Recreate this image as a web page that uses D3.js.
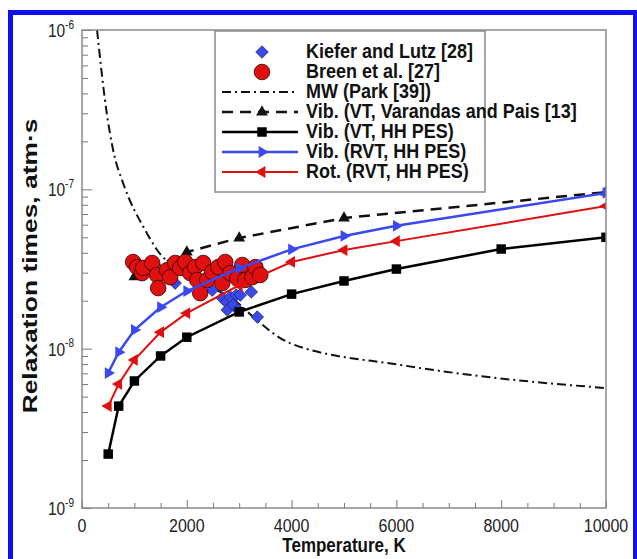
<!DOCTYPE html>
<html>
<head>
<meta charset="utf-8">
<script src="https://cdn.jsdelivr.net/npm/d3@7"></script>
<style>
  html, body { margin: 0; padding: 0; background: #fff; }
  svg { display: block; font-family: "Liberation Sans", Arial, sans-serif; }
</style>
</head>
<body>
<svg id="chart" width="637" height="559"></svg>
<script>
// Temperature (K) and relaxation time (atm·s) for each series
const vtHhT   = [500, 700, 1000, 1500, 2000, 3000, 4000, 5000, 6000, 8000, 10000];
const vtHhTau = [2.18e-9, 4.36e-9, 6.27e-9, 9.0e-9, 1.18e-8, 1.70e-8, 2.2e-8, 2.66e-8, 3.16e-8, 4.22e-8, 5.0e-8];

const rvtVibT   = [500, 700, 1000, 1500, 2000, 3000, 4000, 5000, 6000, 10000];
const rvtVibTau = [7.03e-9, 9.5e-9, 1.31e-8, 1.82e-8, 2.30e-8, 3.2e-8, 4.2e-8, 5.1e-8, 5.9e-8, 9.5e-8];

const rvtRotT   = [500, 700, 1000, 1500, 2000, 3000, 4000, 5000, 6000, 10000];
const rvtRotTau = [4.36e-9, 6.0e-9, 8.5e-9, 1.27e-8, 1.67e-8, 2.5e-8, 3.5e-8, 4.16e-8, 4.73e-8, 7.85e-8];

const varandasT   = [1000, 2000, 3000, 5000, 10000];
const varandasTau = [2.82e-8, 4.04e-8, 4.95e-8, 6.6e-8, 9.6e-8];

const parkT   = [287, 478, 593, 800, 1205, 1434, 2000, 3021, 3270, 3977, 6080, 7992, 10000];
const parkTau = [1.0e-6, 2.92e-7, 1.77e-7, 1.06e-7, 5.55e-8, 4.16e-8, 2.95e-8, 1.88e-8, 1.58e-8, 1.08e-8, 7.9e-9, 6.5e-9, 5.66e-9];

const kieferT   = [1778, 2256, 2486, 2677, 2753, 2830, 2944, 3021, 3231, 2772, 2887, 2983, 3346];
const kieferTau = [2.58e-8, 2.44e-8, 2.33e-8, 2.08e-8, 1.96e-8, 2.11e-8, 2.17e-8, 2.17e-8, 2.27e-8, 1.75e-8, 1.88e-8, 1.75e-8, 1.58e-8];

const breenT   = [975, 1052, 1147, 1166, 1338, 1434, 1453, 1625, 1683, 1778, 1874, 1969, 2065, 2161, 2199, 2256, 2314, 2390, 2486, 2600, 2677, 2734, 2830, 2964, 3059, 3117, 3250, 3308, 3403];
const breenTau = [3.50e-8, 3.25e-8, 2.98e-8, 3.21e-8, 3.45e-8, 2.90e-8, 2.40e-8, 3.11e-8, 2.81e-8, 3.45e-8, 3.21e-8, 3.50e-8, 2.98e-8, 3.25e-8, 2.70e-8, 2.23e-8, 3.45e-8, 2.70e-8, 3.03e-8, 3.25e-8, 2.58e-8, 3.50e-8, 2.98e-8, 2.77e-8, 3.35e-8, 2.70e-8, 2.81e-8, 3.25e-8, 2.90e-8];

const xTicks = [0, 2000, 4000, 6000, 8000, 10000];
const yTickExp = [-6, -7, -8, -9];

const legendLabels = [
  "Kiefer and Lutz [28]",
  "Breen et al. [27]",
  "MW (Park [39])",
  "Vib. (VT, Varandas and Pais [13]",
  "Vib. (VT, HH PES)",
  "Vib. (RVT, HH PES)",
  "Rot. (RVT, HH PES)"
];

const BLUE = "#3a48f0";
const RED = "#e01010";
const TEXT_STRETCH = 1.2;   // lettering is set taller than it is wide

const svg = d3.select("#chart");
const plot = { left: 82, right: 606, top: 30, bottom: 508 };

const x = d3.scaleLinear().domain([0, 10000]).range([plot.left, plot.right]);
const y = d3.scaleLog().domain([1e-9, 1e-6]).range([plot.bottom, plot.top]);

// page frame
svg.append("rect")
  .attr("x", 10.5).attr("y", 12.5).attr("width", 625).attr("height", 560)
  .attr("fill", "none").attr("stroke", "#1010ee").attr("stroke-width", 5);

svg.append("clipPath").attr("id", "clip")
  .append("rect").attr("x", plot.left).attr("y", plot.top)
  .attr("width", plot.right - plot.left).attr("height", plot.bottom - plot.top);

// axes: ticks point into the plot
const xAxis = d3.axisTop(x).tickValues(d3.range(0, 10001, 500)).tickFormat("")
  .tickSizeInner(0).tickSizeOuter(0);
const gx = svg.append("g").attr("transform", `translate(0,${plot.bottom})`).call(xAxis);
gx.select(".domain").remove();
gx.selectAll(".tick line")
  .attr("y2", d => (d % 2000 === 0 ? -8 : -5))
  .attr("stroke", "#777").attr("stroke-width", 1);

const yMinor = [];
for (let e = -9; e < -6; e++) for (let m = 1; m < 10; m++) yMinor.push(m * Math.pow(10, e));
yMinor.push(1e-6);
const yAxis = d3.axisRight(y).tickValues(yMinor).tickFormat("").tickSizeInner(0).tickSizeOuter(0);
const gy = svg.append("g").attr("transform", `translate(${plot.left},0)`).call(yAxis);
gy.select(".domain").remove();
gy.selectAll(".tick line")
  .attr("x2", d => {
    const r = Math.log10(d);
    return Math.abs(r - Math.round(r)) < 1e-9 ? 10 : 6;
  })
  .attr("stroke", "#777").attr("stroke-width", 1);

// tick labels
svg.append("g").selectAll("text").data(xTicks).join("text")
  .attr("transform", d => `translate(${x(d)},${plot.bottom + 24}) scale(1,${TEXT_STRETCH})`)
  .attr("text-anchor", "middle").attr("font-size", 16).attr("fill", "#222")
  .text(d => d);

const yl = svg.append("g").selectAll("text").data(yTickExp).join("text")
  .attr("transform", d => `translate(${plot.left - 8},${y(Math.pow(10, d)) + 7}) scale(1,${TEXT_STRETCH})`)
  .attr("text-anchor", "end").attr("font-size", 15.5).attr("fill", "#222");
yl.append("tspan").text("10");
yl.append("tspan").attr("dy", -7).attr("font-size", 10).text(d => d);

// axis titles
svg.append("text")
  .attr("transform", `translate(${(plot.left + plot.right) / 2},552) scale(1,1.2)`)
  .attr("text-anchor", "middle").attr("font-size", 17).attr("font-weight", "bold")
  .attr("fill", "#111").text("Temperature, K");
svg.append("text")
  .attr("transform", `translate(37,266) rotate(-90) scale(1.32,1)`)
  .attr("text-anchor", "middle").attr("font-size", 20).attr("font-weight", "bold")
  .attr("fill", "#111").text("Relaxation times, atm·s");

const zip = (a, b) => a.map((v, i) => [v, b[i]]);
const line = d3.line().x(d => x(d[0])).y(d => y(d[1]));
const smooth = d3.line().x(d => x(d[0])).y(d => y(d[1])).curve(d3.curveMonotoneX);

const g = svg.append("g").attr("clip-path", "url(#clip)");

// Park MW curve
g.append("path").attr("d", smooth(zip(parkT, parkTau)))
  .attr("fill", "none").attr("stroke", "#111").attr("stroke-width", 2)
  .attr("stroke-dasharray", "9,4,2,4");

// Varandas & Pais VT
g.append("path").attr("d", line(zip(varandasT, varandasTau)))
  .attr("fill", "none").attr("stroke", "#111").attr("stroke-width", 2.5)
  .attr("stroke-dasharray", "11,7");

// marker shapes
const tri = d3.symbol().type(d3.symbolTriangle).size(60);
const sq = d3.symbol().type(d3.symbolSquare).size(90);
const diamond = d3.symbol().type(d3.symbolSquare).size(80);

function drawSeries(T, tau, color, width, markerPath, rot) {
  const pts = zip(T, tau);
  g.append("path").attr("d", line(pts))
    .attr("fill", "none").attr("stroke", color).attr("stroke-width", width);
  g.append("g").selectAll("path").data(pts).join("path")
    .attr("d", markerPath)
    .attr("transform", d => `translate(${x(d[0])},${y(d[1])}) rotate(${rot})`)
    .attr("fill", color);
}

g.append("g").selectAll("path").data(zip(varandasT, varandasTau)).join("path")
  .attr("d", tri()).attr("transform", d => `translate(${x(d[0])},${y(d[1])})`)
  .attr("fill", "#111");

// experimental data
g.append("g").selectAll("path").data(zip(kieferT, kieferTau)).join("path")
  .attr("d", diamond())
  .attr("transform", d => `translate(${x(d[0])},${y(d[1])}) rotate(45)`)
  .attr("fill", BLUE).attr("stroke", "#222").attr("stroke-width", 0.6);

g.append("g").selectAll("circle").data(zip(breenT, breenTau)).join("circle")
  .attr("cx", d => x(d[0])).attr("cy", d => y(d[1])).attr("r", 7.8)
  .attr("fill", RED).attr("stroke", "#300").attr("stroke-width", 0.8);

// computed relaxation times
drawSeries(vtHhT, vtHhTau, "#000", 2.5, sq(), 0);
drawSeries(rvtRotT, rvtRotTau, RED, 2, tri(), -90);
drawSeries(rvtVibT, rvtVibTau, BLUE, 2.5, tri(), 90);

// plot frame
svg.append("rect")
  .attr("x", plot.left).attr("y", plot.top)
  .attr("width", plot.right - plot.left).attr("height", plot.bottom - plot.top)
  .attr("fill", "none").attr("stroke", "#8a8a8a").attr("stroke-width", 1.5);

// legend
const lg = svg.append("g");
lg.append("rect").attr("x", 215).attr("y", 31).attr("width", 270).attr("height", 161)
  .attr("fill", "#fff").attr("stroke", "#8a8a8a").attr("stroke-width", 1.5);
const rowY = i => 52 + i * 20;
const sx0 = 222, sx1 = 298, sxm = 262;
lg.selectAll("text").data(legendLabels).join("text")
  .attr("transform", (d, i) => `translate(306,${rowY(i) + 6}) scale(1,1.12)`)
  .attr("font-size", 18).attr("font-weight", "bold").attr("fill", "#111")
  .text(d => d);

lg.append("path").attr("d", diamond()).attr("transform", `translate(${sxm},${rowY(0)}) rotate(45)`)
  .attr("fill", BLUE).attr("stroke", "#222").attr("stroke-width", 0.6);
lg.append("circle").attr("cx", sxm).attr("cy", rowY(1)).attr("r", 7.8)
  .attr("fill", RED).attr("stroke", "#300").attr("stroke-width", 0.8);
lg.append("line").attr("x1", sx0).attr("x2", sx1).attr("y1", rowY(2)).attr("y2", rowY(2))
  .attr("stroke", "#111").attr("stroke-width", 2).attr("stroke-dasharray", "9,4,2,4");
lg.append("line").attr("x1", sx0).attr("x2", sx1).attr("y1", rowY(3)).attr("y2", rowY(3))
  .attr("stroke", "#111").attr("stroke-width", 2.5).attr("stroke-dasharray", "11,7");
lg.append("path").attr("d", tri()).attr("transform", `translate(${sxm},${rowY(3)})`).attr("fill", "#111");
const legendLines = [[4, "#000", sq(), 0, 2.5], [5, BLUE, tri(), 90, 2.5], [6, RED, tri(), -90, 2]];
legendLines.forEach(([i, c, m, r, w]) => {
  lg.append("line").attr("x1", sx0).attr("x2", sx1).attr("y1", rowY(i)).attr("y2", rowY(i))
    .attr("stroke", c).attr("stroke-width", w);
  lg.append("path").attr("d", m).attr("transform", `translate(${sxm},${rowY(i)}) rotate(${r})`)
    .attr("fill", c);
});
</script>
</body>
</html>
